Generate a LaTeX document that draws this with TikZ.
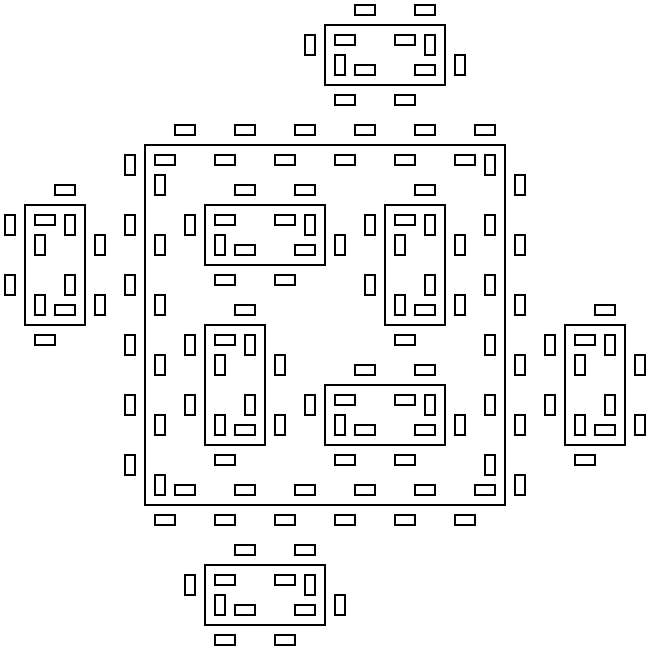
\documentclass[tikz,border=0pt]{standalone}
\usepackage{tikz}

\tikzset{
    hmodule/.pic={
        \draw (0,0) rectangle ++(12,6);
        \foreach \x/\y in {1/1, 7/1, 3/4, 9/4, 3/-2, 9/-2, 1/7, 7/7}
            \draw (\x,\y) rectangle ++(2,1);
        \foreach \x/\y in {10/1, 1/3, -2/1, 13/3}
            \draw (\x,\y) rectangle ++(1,2);
    },
    vmodule/.pic={
        \draw (0,0) rectangle ++(6,12);
        \foreach \x/\y in {1/1, 3/10, 3/-2, 1/13}
            \draw (\x,\y) rectangle ++(2,1);
        \foreach \x/\y in {4/1, 1/3, 4/7, 1/9, -2/1, -2/7, 7/3, 7/9}
            \draw (\x,\y) rectangle ++(1,2);
    }
}

\begin{document}
\begin{tikzpicture}[x=1mm, y=-1mm, line width=0.6pt]
    \useasboundingbox (0,0) rectangle (65,65);

    % big square
    \draw (14.5,14.5) rectangle (50.5,50.5);
    \foreach \i in {0,...,5}{
        \draw (17.5+6*\i,12.5) rectangle ++(2,1);
        \draw (15.5+6*\i,15.5) rectangle ++(2,1);
        \draw (17.5+6*\i,48.5) rectangle ++(2,1);
        \draw (15.5+6*\i,51.5) rectangle ++(2,1);
        \draw (12.5,15.5+6*\i) rectangle ++(1,2);
        \draw (15.5,17.5+6*\i) rectangle ++(1,2);
        \draw (48.5,15.5+6*\i) rectangle ++(1,2);
        \draw (51.5,17.5+6*\i) rectangle ++(1,2);
    }

    % lying modules
    \pic at (32.5,2.5) {hmodule};
    \pic at (20.5,20.5) {hmodule};
    \pic at (32.5,38.5) {hmodule};
    \pic at (20.5,56.5) {hmodule};

    % standing modules
    \pic at (2.5,20.5) {vmodule};
    \pic at (38.5,20.5) {vmodule};
    \pic at (20.5,32.5) {vmodule};
    \pic at (56.5,32.5) {vmodule};
\end{tikzpicture}
\end{document}
